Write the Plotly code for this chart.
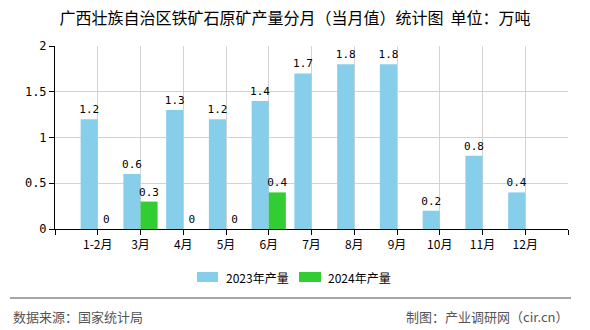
import plotly.graph_objects as go

categories = ["1-2月", "3月", "4月", "5月", "6月", "7月", "8月", "9月", "10月", "11月", "12月"]
values_2023 = [1.2, 0.6, 1.3, 1.2, 1.4, 1.7, 1.8, 1.8, 0.2, 0.8, 0.4]
values_2024 = [0, 0.3, 0, 0, 0.4, None, None, None, None, None, None]
series_names = ["2023年产量", "2024年产量"]
colors = ["#87CEEB", "#32CD32"]
y_ticks = [0, 0.5, 1, 1.5, 2]
y_tick_labels = ["0", "0.5", "1", "1.5", "2"]

W, H = 590, 330
L, R, T, B = 55, 568, 46, 229

def px(x):
    return (x - L) / (R - L)

def py(y):
    return (B - y) / (B - T)

xpos = list(range(1, len(categories) + 1))
num_font = dict(family="DejaVu Sans Mono, monospace", size=11, color="#000")
cjk = "Noto Sans CJK SC, sans-serif"

fig = go.Figure()
for name, vals, col in zip(series_names, [values_2023, values_2024], colors):
    fig.add_trace(go.Bar(
        x=xpos, y=vals, name=name, marker=dict(color=col, line=dict(width=0)),
        text=[("" if v is None else f"{v:g}") for v in vals],
        textposition="outside", textfont=num_font, cliponaxis=False,
        constraintext="none", showlegend=False,
    ))

tickvals = list(range(0, len(categories) + 2))
ticktext = [""] + categories + [""]

fig.update_layout(
    width=W, height=H,
    margin=dict(l=L, r=W - R, t=T, b=H - B, pad=0),
    paper_bgcolor="white", plot_bgcolor="white",
    barmode="group", bargap=0.2, bargroupgap=0,
    title=dict(text="广西壮族自治区铁矿石原矿产量分月（当月值）统计图  单位：万吨",
               x=0.5, xref="container", xanchor="center",
               y=1 - 18 / H, yref="container", yanchor="middle",
               font=dict(family=cjk, size=16, color="#000")),
    xaxis=dict(range=[0, len(categories) + 1], tickmode="array", tickvals=tickvals,
               ticktext=ticktext, showgrid=True, gridcolor="#d3d3d3", gridwidth=1,
               showline=True, linecolor="#000", linewidth=1,
               ticks="outside", ticklen=5, tickcolor="#000",
               tickfont=dict(family=cjk, size=12, color="#000"), zeroline=False),
    yaxis=dict(range=[0, 2], tickmode="array", tickvals=y_ticks, ticktext=y_tick_labels,
               showgrid=True, gridcolor="#d3d3d3", gridwidth=1,
               showline=True, linecolor="#000", linewidth=1,
               ticks="outside", ticklen=5, tickcolor="#000",
               tickfont=dict(family="DejaVu Sans Mono, monospace", size=12, color="#000"),
               zeroline=False),
    font=dict(family=cjk),
)

# custom legend
legend_items = [(197, 218, 224), (299, 321, 326)]
ly = 277
for (x0, x1, tx), name, col in zip(legend_items, series_names, colors):
    fig.add_shape(type="rect", xref="paper", yref="paper",
                  x0=px(x0), x1=px(x1), y0=py(ly + 5), y1=py(ly - 5),
                  fillcolor=col, line=dict(width=0))
    fig.add_annotation(x=px(tx), y=py(ly), xref="paper", yref="paper",
                       text=name, showarrow=False, xanchor="left", yanchor="middle",
                       font=dict(family=cjk, size=12, color="#000"))

# footer
fig.add_shape(type="line", xref="paper", yref="paper",
              x0=px(10), x1=px(571), y0=py(298), y1=py(298),
              line=dict(color="#888", width=1.5))
fig.add_annotation(x=px(11), y=py(316), xref="paper", yref="paper",
                   text="数据来源：国家统计局", showarrow=False, xanchor="left", yanchor="middle",
                   font=dict(family=cjk, size=13, color="#555"))
fig.add_annotation(x=px(570), y=py(316), xref="paper", yref="paper",
                   text="制图：产业调研网（cir.cn）", showarrow=False, xanchor="right", yanchor="middle",
                   font=dict(family=cjk, size=13, color="#555"))

fig.write_html("out.html")
